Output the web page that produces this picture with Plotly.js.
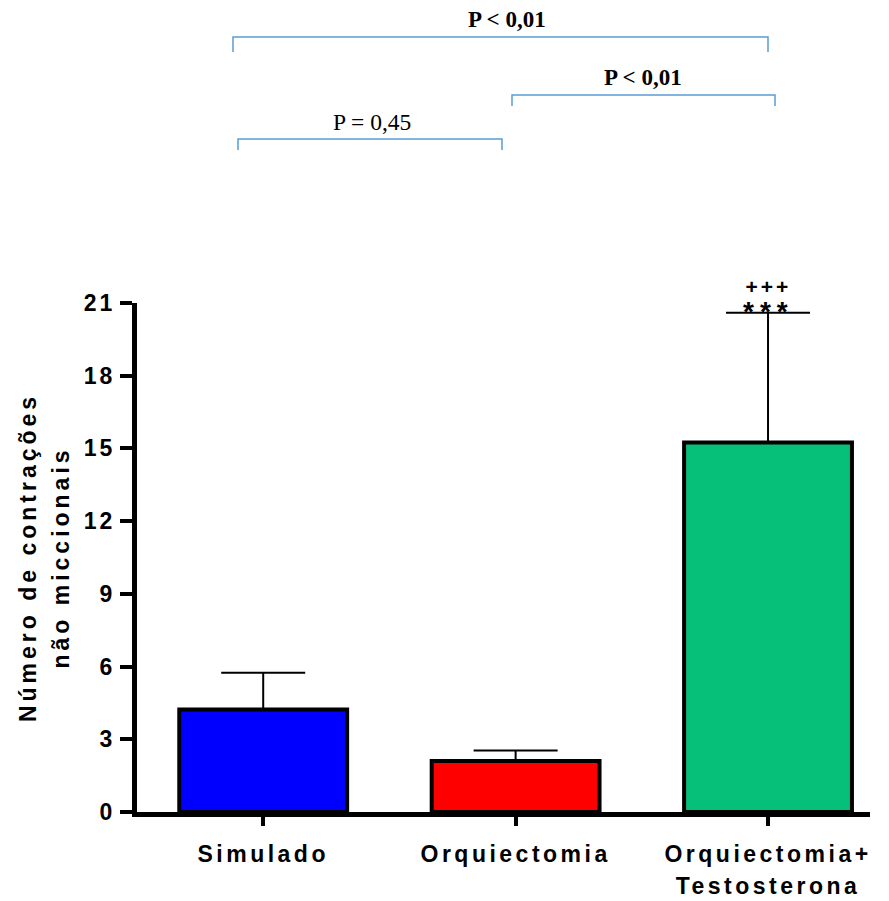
<!DOCTYPE html>
<html>
<head>
<meta charset="utf-8">
<script src="https://cdn.plot.ly/plotly-3.0.1.min.js"></script>
<style>
  html, body { margin: 0; padding: 0; background: #fff; }
  .xtick text { letter-spacing: 3.5px; }
  .ytick text { letter-spacing: 3px; }
  .g-ytitle text { letter-spacing: 4px; }
  .annotation[data-index="3"] text { letter-spacing: 3px; }
  .annotation[data-index="4"] text { letter-spacing: 6px; }
</style>
</head>
<body>
<div id="chart" style="width:889px;height:901px;"></div>
<script>
// ---- data ----
const categories = ['Simulado', 'Orquiectomia', 'Orquiectomia+<br>Testosterona'];
const means = [4.23, 2.10, 15.24];
const semUp = [1.52, 0.44, 5.36];
const semDown = [0, 0, 0];
const barColors = ['#0000ff', '#ff0000', '#06bf78'];
const yTickVals = [0, 3, 6, 9, 12, 15, 18, 21];
const yTitle = 'Número de contrações<br>não miccionais';
const pLabels = ['P < 0,01', 'P < 0,01', 'P = 0,45'];
const sigMarks = ['+++', '***'];

// ---- helpers (pixel -> paper) ----
const L = 137, R = 870, T = 303, B = 812;
const px = x => (x - L) / (R - L);
const py = y => (B - y) / (B - T);

const font = 'Liberation Sans, Arial, sans-serif';
const serif = 'Liberation Serif, Times New Roman, serif';
const bracketColor = '#5b9bd5';

function bracket(x0, x1, y, yEnd) {
  return {
    type: 'path', xref: 'paper', yref: 'paper',
    path: `M ${px(x0)} ${py(yEnd)} L ${px(x0)} ${py(y)} L ${px(x1)} ${py(y)} L ${px(x1)} ${py(yEnd)}`,
    line: { color: bracketColor, width: 1.5 }
  };
}

const trace = {
  type: 'bar',
  x: categories,
  y: means,
  width: 0.665,
  marker: { color: barColors, line: { color: '#000', width: 4 } },
  error_y: {
    type: 'data', symmetric: false, array: semUp, arrayminus: semDown,
    color: '#000', thickness: 2, width: 42
  },
  hoverinfo: 'none'
};

const tickFont = { family: font, size: 23, weight: 'bold', color: '#000' };

const layout = {
  width: 889, height: 901,
  margin: { l: L, r: 889 - R, t: T, b: 901 - B, pad: 0 },
  paper_bgcolor: '#fff', plot_bgcolor: '#fff',
  showlegend: false,
  xaxis: {
    type: 'category', range: [-0.5, 2.404],
    showline: true, linewidth: 5, linecolor: '#000',
    ticks: 'outside', ticklen: 9, tickwidth: 4, tickcolor: '#000',
    tickfont: tickFont,
    ticklabelstandoff: 8,
    showgrid: false, zeroline: false, fixedrange: true
  },
  yaxis: {
    range: [0, 21], tickmode: 'array', tickvals: yTickVals,
    showline: true, linewidth: 5, linecolor: '#000',
    ticks: 'outside', ticklen: 12, tickwidth: 4, tickcolor: '#000',
    tickfont: tickFont,
    ticklabelstandoff: 0,
    showgrid: false, zeroline: false, fixedrange: true,
    title: { text: yTitle, font: { family: font, size: 23, weight: 'bold', color: '#000' }, standoff: 12 }
  },
  shapes: [
    bracket(233, 768, 37, 52),
    bracket(512, 775, 95, 106),
    bracket(238, 502, 139, 150)
  ],
  annotations: [
    { xref: 'paper', yref: 'paper', x: px(507), y: py(20), text: pLabels[0], showarrow: false,
      xanchor: 'center', yanchor: 'middle', font: { family: serif, size: 23, weight: 'bold', color: '#000' } },
    { xref: 'paper', yref: 'paper', x: px(643), y: py(77), text: pLabels[1], showarrow: false,
      xanchor: 'center', yanchor: 'middle', font: { family: serif, size: 23, weight: 'bold', color: '#000' } },
    { xref: 'paper', yref: 'paper', x: px(372), y: py(122), text: pLabels[2], showarrow: false,
      xanchor: 'center', yanchor: 'middle', font: { family: serif, size: 23.5, color: '#000' } },
    { xref: 'x', yref: 'paper', x: 2, y: py(286), text: sigMarks[0], showarrow: false,
      xanchor: 'center', yanchor: 'middle', font: { family: font, size: 21, weight: 'bold', color: '#000' } },
    { xref: 'x', yref: 'paper', x: 2, y: py(311), text: sigMarks[1], showarrow: false,
      xanchor: 'center', yanchor: 'middle', font: { family: font, size: 28, weight: 'bold', color: '#000' } }
  ]
};

Plotly.newPlot('chart', [trace], layout, { staticPlot: true, displayModeBar: false }).then(gd => {
  gd.querySelectorAll('.xtick text tspan.line').forEach(t => {
    const dy = t.getAttribute('dy');
    if (dy && parseFloat(dy) > 0) t.setAttribute('dy', '1.4em');
  });
  gd.querySelectorAll('.g-ytitle text tspan.line').forEach(t => {
    const dy = t.getAttribute('dy');
    if (dy && parseFloat(dy) > 0) t.setAttribute('dy', '1.4em');
  });
});
</script>
</body>
</html>
